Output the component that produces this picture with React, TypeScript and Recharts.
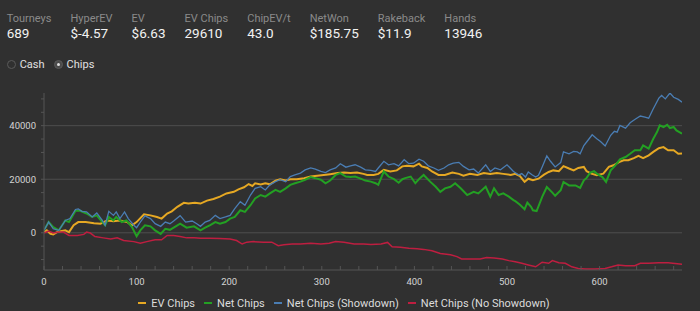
import React from "react";
import { LineChart, Line, XAxis, YAxis, CartesianGrid, Legend } from "recharts";

// header stats
const statLabels = ["Tourneys", "HyperEV", "EV", "EV Chips", "ChipEV/t", "NetWon", "Rakeback", "Hands"];
const statValues = ["689", "$-4.57", "$6.63", "29610", "43.0", "$185.75", "$11.9", "13946"];
const modes = ["Cash", "Chips"];
const activeMode = "Chips";

// [tourney, chips]
const evChips = [
  [0, 250], [3, 900], [7, -400], [10, -600], [14, 250], [18, 600], [23, 900], [27, 250],
  [32, 2800], [37, 4000], [45, 4000], [54, 3600], [61, 3400], [68, 4600], [75, 4300], [82, 4600],
  [90, 4000], [95, 2800], [100, 4000], [108, 6900], [115, 6500], [122, 5900], [127, 5300], [133, 7200],
  [138, 8000], [144, 9700], [151, 11200], [156, 10900], [163, 11200], [169, 10900], [176, 12000], [183, 12600],
  [190, 13500], [197, 14700], [205, 15300], [210, 16200], [216, 17000], [221, 18200], [225, 17500], [228, 18500],
  [234, 18000], [239, 18500], [244, 18100], [250, 19500], [255, 20000], [261, 19500], [266, 20000], [273, 20000],
  [281, 20400], [288, 21000], [295, 21300], [302, 21600], [309, 21900], [317, 22300], [324, 22500], [331, 22300],
  [338, 22500], [345, 22000], [349, 21600], [356, 21600], [361, 22000], [367, 23500], [374, 22900], [381, 23300],
  [387, 24800], [392, 25000], [399, 24800], [405, 25800], [408, 24800], [414, 24200], [419, 22900], [426, 21600],
  [433, 21600], [441, 22500], [448, 22000], [453, 21300], [460, 22000], [468, 21600], [475, 22300], [482, 22000],
  [489, 22300], [496, 22000], [504, 21600], [509, 22000], [514, 21200], [519, 19000], [523, 20200], [528, 19600],
  [534, 20200], [540, 21700], [545, 22700], [550, 23300], [556, 23000], [561, 24900], [567, 24000], [572, 23300],
  [577, 24200], [583, 24600], [586, 23000], [591, 22100], [597, 21500], [604, 22100], [610, 24600], [615, 25200],
  [621, 26400], [626, 27100], [631, 27100], [637, 27900], [642, 28700], [647, 27900], [653, 28900], [658, 30200],
  [664, 31600], [669, 32000], [674, 30800], [680, 30800], [685, 29500], [689, 29610],
];

const netChips = [
  [0, 900], [5, 4000], [10, 2100], [16, 900], [23, 4600], [27, 4000], [34, 8200], [39, 8200],
  [46, 7200], [52, 5900], [57, 6500], [63, 4000], [66, 2800], [70, 5900], [75, 4600], [78, 5900],
  [84, 4000], [89, 4600], [95, 2100], [100, -1300], [104, 900], [109, 2800], [115, 2400], [120, 900],
  [126, -400], [131, 1500], [136, 1100], [144, 2800], [147, 3400], [154, 1900], [162, 2400], [169, 900],
  [174, 1900], [179, 2800], [185, 4000], [190, 3400], [196, 4000], [201, 5300], [206, 5900], [212, 8400],
  [217, 7800], [223, 10300], [228, 12800], [234, 14100], [239, 13500], [244, 14700], [250, 16000], [255, 15300],
  [261, 16600], [266, 17900], [271, 18500], [277, 19100], [282, 19800], [288, 20800], [293, 20400], [299, 19800],
  [304, 18500], [309, 19500], [315, 21600], [320, 22300], [326, 21000], [331, 20800], [336, 21000], [342, 20200],
  [347, 19500], [353, 19100], [358, 18500], [361, 17900], [367, 22900], [372, 21000], [378, 20000], [383, 18700],
  [387, 20000], [390, 20400], [396, 21000], [401, 18500], [406, 20400], [410, 21600], [417, 19100], [423, 17200],
  [428, 15300], [433, 16600], [439, 17200], [444, 18500], [450, 16600], [457, 14100], [464, 15300], [469, 14700],
  [477, 17200], [482, 13500], [486, 16600], [491, 14100], [496, 14700], [502, 13500], [507, 12200], [509, 11800],
  [514, 10500], [519, 8800], [522, 11300], [526, 9700], [528, 8400], [532, 8100], [538, 13400], [543, 17100],
  [549, 15000], [552, 13800], [558, 15900], [561, 19000], [567, 17700], [574, 17700], [579, 16800], [583, 19600],
  [586, 20500], [590, 22500], [594, 23000], [597, 22100], [603, 20800], [607, 19000], [612, 23300], [617, 25200],
  [622, 27400], [628, 28300], [633, 29500], [638, 30800], [644, 30800], [647, 32600], [653, 31400], [658, 35100],
  [662, 37600], [665, 40100], [669, 39500], [673, 40300], [676, 39100], [680, 39500], [683, 38200], [689, 37000],
];

const showdownChips = [
  [0, 900], [5, 4000], [10, 1500], [16, 900], [23, 4600], [28, 5300], [34, 8700], [37, 8900],
  [41, 8000], [46, 7800], [52, 5900], [57, 7400], [63, 4600], [66, 2800], [70, 8000], [75, 6500],
  [78, 7800], [82, 5300], [87, 7800], [91, 5300], [97, 2800], [100, 1900], [104, 4000], [109, 6300],
  [115, 5300], [120, 3400], [126, 2400], [131, 4000], [136, 3400], [140, 4400], [147, 6400], [153, 4000],
  [160, 4400], [165, 3400], [169, 2400], [174, 4000], [179, 4600], [185, 6500], [190, 5300], [196, 5900],
  [201, 6500], [206, 9000], [212, 11600], [217, 10300], [223, 14100], [228, 16600], [234, 17200], [239, 16000],
  [244, 17900], [250, 19100], [255, 19800], [261, 19100], [266, 21000], [271, 21600], [277, 22300], [282, 23500],
  [288, 24200], [293, 23800], [299, 22900], [304, 22500], [309, 23500], [315, 24200], [320, 25800], [326, 24500],
  [331, 25000], [336, 25400], [342, 24500], [347, 23500], [353, 23300], [358, 22900], [361, 24200], [367, 26700],
  [372, 25400], [378, 25800], [383, 25000], [389, 27300], [394, 25800], [399, 26000], [405, 27500], [410, 26700],
  [415, 25000], [421, 24200], [426, 23300], [432, 24200], [437, 25400], [442, 26000], [448, 26300], [453, 24800],
  [459, 23500], [464, 23800], [469, 22300], [477, 25400], [482, 22900], [487, 24200], [493, 23500], [500, 25400],
  [507, 22900], [513, 21600], [516, 22100], [520, 20800], [523, 22700], [527, 21700], [531, 20800], [534, 21500],
  [538, 24600], [543, 28700], [547, 26700], [552, 24600], [558, 26200], [561, 30200], [567, 29500], [572, 30400],
  [576, 30200], [579, 29500], [583, 32600], [586, 33900], [592, 36600], [597, 35100], [601, 34100], [606, 32400],
  [612, 36400], [616, 37900], [619, 37600], [622, 40100], [628, 39100], [633, 41100], [638, 42300], [644, 43600],
  [649, 43200], [653, 42800], [658, 46300], [664, 50300], [667, 51300], [671, 50000], [676, 52200], [680, 50600],
  [685, 49800], [689, 48800],
];

const noShowdownChips = [
  [0, -100], [5, 600], [10, -100], [16, 250], [21, 250], [27, -1000], [36, -1000], [43, -600],
  [46, 250], [50, -100], [55, -1400], [64, -1900], [72, -2300], [79, -1900], [86, -2900], [97, -3300],
  [104, -3900], [111, -3300], [120, -2600], [127, -2600], [133, -1000], [140, -1000], [147, -1400], [154, -1900],
  [162, -1900], [169, -2000], [179, -2000], [190, -2100], [201, -2300], [208, -2900], [214, -4200], [219, -3500],
  [226, -3300], [237, -3500], [246, -3500], [253, -4800], [259, -4500], [268, -4200], [277, -4200], [288, -3900],
  [299, -4200], [308, -3900], [315, -3300], [324, -3500], [335, -4200], [345, -4200], [353, -4400], [364, -4200],
  [371, -3600], [376, -5200], [385, -5400], [394, -5800], [403, -6000], [410, -6200], [419, -6700], [428, -7700],
  [439, -8200], [446, -8900], [451, -9800], [460, -9800], [471, -9800], [478, -9200], [486, -9400], [495, -9800],
  [502, -10400], [509, -10800], [516, -11400], [523, -12000], [531, -12700], [538, -11000], [545, -11400], [549, -10400],
  [556, -11200], [563, -11400], [570, -12700], [577, -13300], [585, -13500], [595, -13500], [606, -13300], [613, -12700],
  [620, -12000], [628, -12300], [638, -12300], [644, -11400], [653, -11400], [664, -11200], [674, -11200], [689, -11800],
];

const xTicks = [0, 20, 40, 60, 80, 100, 120, 140, 160, 180, 200, 220, 240, 260, 280, 300, 320, 340,
  360, 380, 400, 420, 440, 460, 480, 500, 520, 540, 560, 580, 600, 620, 640, 660, 680];
const yTicks = [-10000, -5000, 0, 5000, 10000, 15000, 20000, 25000, 30000, 35000, 40000, 45000, 50000];
const gridValues = [0, 20000, 40000];

const series = [
  { name: "EV Chips", data: evChips, color: "#e6a823", width: 2 },
  { name: "Net Chips", data: netChips, color: "#23a023", width: 2 },
  { name: "Net Chips (Showdown)", data: showdownChips, color: "#4a7db3", width: 1.3 },
  { name: "Net Chips (No Showdown)", data: noShowdownChips, color: "#be1e40", width: 1.5 },
];

const toPoints = (rows: number[][]) => rows.map(([t, v]) => ({ t, v }));

// keep the legend in series order (recharts sorts by name otherwise)
const LegendRow = () => (
  <div style={{ height: 20, paddingTop: 4, paddingLeft: 6, boxSizing: "border-box", display: "flex", gap: 9, justifyContent: "center", alignItems: "center", fontSize: 11, color: "#dcdcdc" }}>
    {series.map((s) => (
      <span key={s.name} style={{ display: "flex", alignItems: "center" }}>
        <span style={{ width: 8, height: 2, background: s.color, marginRight: 5 }} />
        {s.name}
      </span>
    ))}
  </div>
);

export default function App() {
  return (
    <div style={{ position: "fixed", inset: 0, background: "#303030", fontFamily: "Roboto, sans-serif", overflow: "hidden" }}>
      <div style={{ position: "absolute", top: 12.5, left: 6.7, display: "flex", gap: 19 }}>
        {statLabels.map((label, i) => (
          <div key={label}>
            <div style={{ fontSize: 11, lineHeight: "11px", color: "#8a8a8a" }}>{label}</div>
            <div style={{ fontSize: 13.5, lineHeight: "13.5px", color: "#f2f2f2", marginTop: 3 }}>{statValues[i]}</div>
          </div>
        ))}
      </div>
      <div style={{ position: "absolute", top: 58.5, left: 6.7, display: "flex", alignItems: "center", fontSize: 11, lineHeight: "11px", color: "#e0e0e0" }}>
        {modes.map((m) => (
          <span key={m} style={{ display: "flex", alignItems: "center", marginRight: 9 }}>
            <span style={{ width: 9, height: 9, borderRadius: "50%", boxSizing: "border-box", border: "1px solid #5a5a5a", background: m === activeMode ? "#4a4a4a" : "transparent", display: "flex", alignItems: "center", justifyContent: "center", marginRight: 4 }}>
              {m === activeMode && <span style={{ width: 3, height: 3, borderRadius: "50%", background: "#e0e0e0" }} />}
            </span>
            {m}
          </span>
        ))}
      </div>
      <div style={{ position: "absolute", top: 0, left: 0 }}>
        <LineChart width={700} height={311} margin={{ top: 93, right: 18, bottom: 0, left: 0 }}>
          <CartesianGrid vertical={false} horizontalValues={gridValues} stroke="#4e4e4e" />
          <XAxis
            dataKey="t"
            type="number"
            domain={[0, 689]}
            ticks={xTicks}
            interval={0}
            height={21}
            tickSize={-4}
            tickMargin={12}
            tickFormatter={(v: number) => (v % 100 === 0 ? String(v) : "")}
            stroke="#555"
            tick={{ fill: "#d4d4d4", fontSize: 9.5 }}
            allowDataOverflow
          />
          <YAxis
            type="number"
            domain={[-13900, 52200]}
            ticks={yTicks}
            interval={0}
            width={44}
            tickSize={3}
            tickMargin={5}
            tickFormatter={(v: number) => (v % 20000 === 0 ? String(v) : "")}
            stroke="#555"
            tick={{ fill: "#d4d4d4", fontSize: 9.5 }}
            allowDataOverflow
          />
          <Legend verticalAlign="bottom" align="center" content={LegendRow} />
          {series.map((s) => (
            <Line
              key={s.name}
              name={s.name}
              data={toPoints(s.data)}
              dataKey="v"
              type="linear"
              stroke={s.color}
              strokeWidth={s.width}
              dot={false}
              activeDot={false}
              isAnimationActive={false}
            />
          ))}
        </LineChart>
      </div>
    </div>
  );
}
